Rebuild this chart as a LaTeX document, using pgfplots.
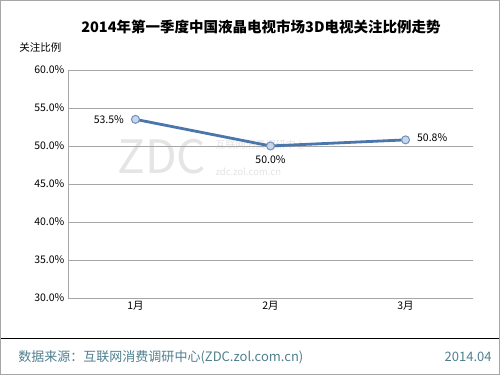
\documentclass[border=0pt]{standalone}
\usepackage{pgfplots}
\pgfplotsset{compat=1.18}
\usepackage{fontspec}
\setmainfont{Noto Sans CJK SC}
\newfontfamily\latin{Liberation Sans}
\definecolor{linecol}{HTML}{4A76AC}
\definecolor{markfill}{HTML}{C8D6EA}
\definecolor{footcol}{HTML}{4F7F8F}
\begin{document}
\begin{tikzpicture}[x=1pt,y=1pt]
\draw[gray!70, line width=0.8pt] (0.5,0.5) rectangle (499.5,374.5);
\node[font=\bfseries\fontsize{14.5}{16}\selectfont] at (261,348) {2014年第一季度中国液晶电视市场3D电视关注比例走势};
\node[font=\fontsize{10.5}{12}\selectfont, anchor=west] at (16,327) {关注比例};
\node[font=\fontsize{46}{48}\selectfont, text=gray!20] at (162,218) {ZDC};
\node[font=\fontsize{10}{11}\selectfont, text=gray!22, anchor=west] at (212,230) {互联网消费调研中心};
\node[font=\fontsize{9.5}{11}\selectfont, text=gray!22, anchor=west] at (212,203) {zdc.zol.com.cn};
\begin{axis}[
  at={(68pt,77pt)}, anchor=south west,
  scale only axis, width=405pt, height=228pt,
  xmin=-0.5, xmax=2.5, ymin=30, ymax=60,
  xtick={0,1,2}, xticklabels={1月,2月,3月},
  ytick={30,35,...,60},
  yticklabel={\pgfmathprintnumber[fixed,fixed zerofill,precision=1]{\tick}\%},
  /pgf/number format/assume math mode=true,
  ymajorgrids, grid style={gray!70, line width=0.6pt},
  axis line style={gray!70},
  axis x line*=bottom, axis y line*=left,
  x axis line style={-}, y axis line style={-},
  tick style={draw=none},
  major tick length=0pt,
  ticklabel style={font=\fontsize{10.5}{12}\selectfont},
  clip=false,
]
\addplot[linecol, line width=2.8pt, mark=*, mark size=4pt, mark options={fill=markfill, draw=linecol!80, line width=1pt}]
  coordinates {(0,53.5) (1,50.0) (2,50.8)};
\node[anchor=east, font=\fontsize{10.5}{12}\selectfont] at (axis cs:0,53.5) [xshift=-8pt] {53.5\%};
\node[anchor=north, font=\fontsize{10.5}{12}\selectfont] at (axis cs:1,50.0) [yshift=-6pt] {50.0\%};
\node[anchor=west, font=\fontsize{10.5}{12}\selectfont] at (axis cs:2,50.8) [xshift=8pt,yshift=2pt] {50.8\%};
\end{axis}
\draw[black, line width=0.8pt] (1,37) -- (499,37);
\node[anchor=west, text=footcol, font=\fontsize{13}{15}\selectfont] at (15,18) {数据来源：互联网消费调研中心(ZDC.zol.com.cn)};
\node[anchor=east, text=footcol, font=\fontsize{13}{15}\selectfont] at (495,18) {2014.04};
\end{tikzpicture}
\end{document}
